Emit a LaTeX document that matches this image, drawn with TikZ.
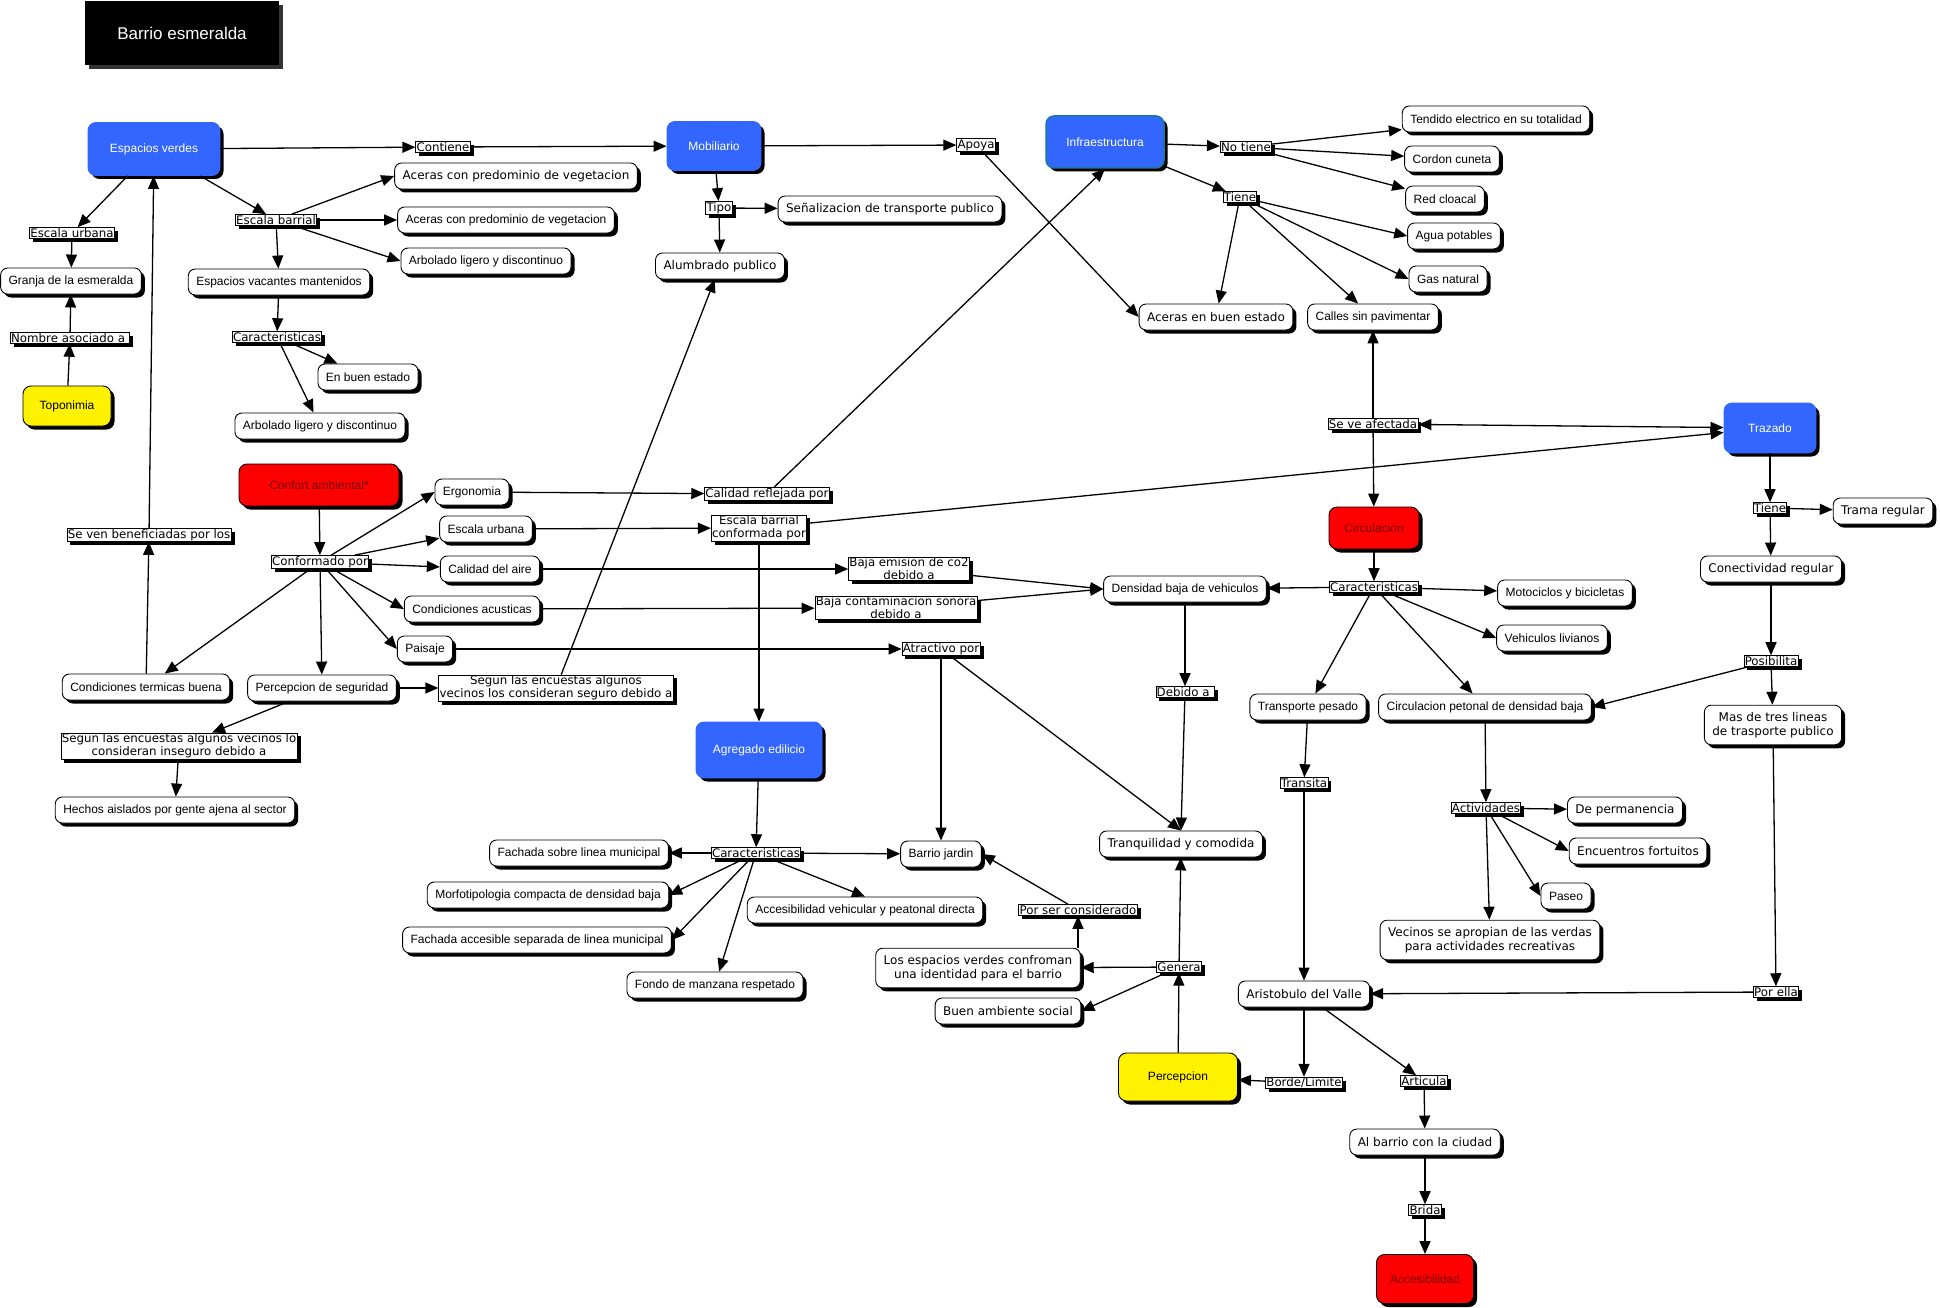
\documentclass[tikz,border=0pt]{standalone}
\usepackage{fontspec}
\setmainfont{Liberation Sans}
\newfontfamily\verd{DejaVu Sans}
\usetikzlibrary{arrows.meta,shadows}
\definecolor{azul}{HTML}{3366FF}
\definecolor{verdeazul}{HTML}{1A7A99}

\begin{document}
\begin{tikzpicture}[x=1pt,y=-1pt]
        \tikzstyle{concept}=[draw,fill=white,rounded corners=7pt,line width=0.9pt,inner xsep=8pt,inner ysep=7pt,minimum height=26pt,align=center,font=\fontsize{12}{14}\selectfont,drop shadow={shadow xshift=3.5pt,shadow yshift=-3.5pt,opacity=1,fill=black}]
        \tikzstyle{vconcept}=[concept,font=\verd\fontsize{12}{14}\selectfont]
        \tikzstyle{link}=[draw,fill=white,line width=0.8pt,inner sep=0.8pt,align=center,font=\verd\fontsize{11.8}{13}\selectfont,drop shadow={shadow xshift=3.5pt,shadow yshift=-3.5pt,opacity=1,fill=black}]
        \tikzstyle{hub}=[concept,draw=azul,fill=azul,text=white,rounded corners=8pt]
        \tikzstyle{rojo}=[concept,fill=red,text=red!45!black,rounded corners=8pt]
        \tikzstyle{amarillo}=[concept,fill=yellow,rounded corners=8pt]
        \tikzstyle{arr}=[-{Triangle[length=13pt,width=11pt]},line width=1.3pt]
        \tikzstyle{darr}=[{Triangle[length=13pt,width=11pt]}-{Triangle[length=13pt,width=11pt]},line width=1.3pt]
        \useasboundingbox (0,0) rectangle (1940,1308);

        \node[fill=black,text=white,minimum width=194pt,minimum height=64pt,font=\fontsize{17}{20}\selectfont,drop shadow={shadow xshift=4pt,shadow yshift=-4pt,opacity=1,fill=black!80}] (titulo) at (182,33) {Barrio esmeralda};

        \node[hub,minimum width=132pt,minimum height=53pt] (ev) at (154,149) {Espacios verdes};
        \node[link] (escu1) at (72,233) {Escala urbana};
        \node[concept] (granja) at (71,281) {Granja de la esmeralda};
        \node[link] (nombre) at (70,338) {Nombre asociado a\ };
        \node[amarillo,minimum width=88pt,minimum height=40pt] (topo) at (67,406) {Toponimia};
        \node[link] (escb) at (276,220) {Escala barrial};
        \node[vconcept] (acer1) at (516,176) {Aceras con predominio de vegetacion};
        \node[concept] (acer2) at (506,220) {Aceras con predominio de vegetacion};
        \node[concept] (arb1) at (486,261) {Arbolado ligero y discontinuo};
        \node[concept] (vac) at (279,282) {Espacios vacantes mantenidos};
        \node[link] (car1) at (277,337) {Caracteristicas};
        \node[concept] (buen) at (368,377) {En buen estado};
        \node[concept] (arb2) at (320,426) {Arbolado ligero y discontinuo};
        \node[link] (cont) at (443,147) {Contiene};

        \node[hub,minimum width=94pt,minimum height=49pt] (mob) at (714,146) {Mobiliario};
        \node[link] (tipo) at (719,208) {Tipo};
        \node[vconcept] (senal) at (890,209) {Señalizacion de transporte publico};
        \node[vconcept] (alum) at (720,266) {Alumbrado publico};
        \node[link] (apoya) at (976,145) {Apoya};

        \node[hub,draw=verdeazul,line width=1.5pt,minimum width=118pt,minimum height=52pt] (infra) at (1105,142) {Infraestructura};
        \node[link] (notiene) at (1246,147) {No tiene};
        \node[link] (tiene) at (1240,197) {Tiene};
        \node[concept] (tend) at (1496,119) {Tendido electrico en su totalidad};
        \node[concept] (cordon) at (1452,159) {Cordon cuneta};
        \node[concept] (cloaca) at (1445,199) {Red cloacal};
        \node[concept] (agua) at (1454,236) {Agua potables};
        \node[concept] (gas) at (1448,279) {Gas natural};
        \node[vconcept] (aceb) at (1216,317) {Aceras en buen estado};
        \node[concept] (calles) at (1373,317) {Calles sin pavimentar};
        \node[link] (seve) at (1373,424) {Se ve afectada};
        \node[hub,minimum width=92pt,minimum height=50pt] (traz) at (1770,428) {Trazado};

        \node[rojo,minimum width=160pt,minimum height=42pt] (confort) at (319,485) {Confort ambiental*};
        \node[link] (seven) at (149,535) {Se ven beneficiadas por los};
        \node[link] (conf) at (320,562) {Conformado por};
        \node[concept] (ergo) at (472,492) {Ergonomia};
        \node[concept] (escu2) at (486,529) {Escala urbana};
        \node[concept] (aire) at (490,569) {Calidad del aire};
        \node[concept] (acus) at (472,609) {Condiciones acusticas};
        \node[concept] (pais) at (425,649) {Paisaje};
        \node[concept] (term) at (146,687) {Condiciones termicas buena};
        \node[concept] (perseg) at (322,688) {Percepcion de seguridad};
        \node[link] (segun1) at (556,688) {Segun las encuestas algunos\\vecinos los consideran seguro debido a};
        \node[link] (segun2) at (179,746) {Segun las encuestas algunos vecinos lo\\consideran inseguro debido a};
        \node[concept] (hechos) at (175,810) {Hechos aislados por gente ajena al sector};

        \node[link] (calref) at (767,494) {Calidad reflejada por};
        \node[link] (escbc) at (759,528) {Escala barrial\\conformada por};
        \node[link] (bajaco) at (909,569) {Baja emision de co2\\debido a};
        \node[link] (bajason) at (896,608) {Baja contaminacion sonora\\debido a};
        \node[link] (atrac) at (941,649) {Atractivo por};
        \node[hub,minimum width=126pt,minimum height=56pt] (agreg) at (759,750) {Agregado edilicio};
        \node[link] (car2) at (756,853) {Caracteristicas};
        \node[concept] (fach1) at (579,853) {Fachada sobre linea municipal};
        \node[concept] (morfo) at (548,895) {Morfotipologia compacta de densidad baja};
        \node[concept] (fach2) at (537,940) {Fachada accesible separada de linea municipal};
        \node[concept] (fondo) at (715,985) {Fondo de manzana respetado};
        \node[concept] (accv) at (865,910) {Accesibilidad vehicular y peatonal directa};
        \node[concept] (bj) at (941,854) {Barrio jardin};

        \node[vconcept] (tranq) at (1181,844) {Tranquilidad y comodida};
        \node[link] (porser) at (1078,910) {Por ser considerado};
        \node[vconcept] (losev) at (978,968) {Los espacios verdes confroman\\una identidad para el barrio};
        \node[link] (genera) at (1179,967) {Genera};
        \node[vconcept] (buena) at (1008,1011) {Buen ambiente social};
        \node[amarillo,minimum width=119pt,minimum height=48pt] (perc) at (1178,1077) {Percepcion};
        \node[link] (borde) at (1304,1083) {Borde/Limite};
        \node[vconcept] (arist) at (1304,994) {Aristobulo del Valle};

        \node[rojo,minimum width=90pt,minimum height=42pt] (circ) at (1374,528) {Circulacion};
        \node[link] (car3) at (1374,587) {Caracteristicas};
        \node[concept] (dens) at (1185,589) {Densidad baja de vehiculos};
        \node[link] (debido) at (1185,692) {Debido a\ };
        \node[concept] (trans) at (1308,707) {Transporte pesado};
        \node[concept] (circp) at (1485,707) {Circulacion petonal de densidad baja};
        \node[link] (transita) at (1304,783) {Transita};
        \node[concept] (moto) at (1565,593) {Motociclos y bicicletas};
        \node[concept] (vliv) at (1552,638) {Vehiculos livianos};

        \node[link] (tiene2) at (1770,508) {Tiene};
        \node[vconcept] (trama) at (1883,511) {Trama regular};
        \node[vconcept] (conec) at (1771,569) {Conectividad regular};
        \node[link] (posib) at (1771,661) {Posibilita};
        \node[vconcept] (mas) at (1773,725) {Mas de tres lineas\\de trasporte publico};
        \node[link] (activ) at (1486,808) {Actividades};
        \node[vconcept] (perm) at (1625,810) {De permanencia};
        \node[vconcept] (encu) at (1638,851) {Encuentros fortuitos};
        \node[concept] (paseo) at (1566,896) {Paseo};
        \node[vconcept] (vecin) at (1490,940) {Vecinos se apropian de las verdas\\para actividades recreativas};
        \node[link] (porella) at (1776,992) {Por ella};
        \node[link] (artic) at (1424,1081) {Articula};
        \node[vconcept] (albarrio) at (1425,1142) {Al barrio con la ciudad};
        \node[link] (brida) at (1425,1210) {Brida};
        \node[rojo,minimum width=97pt,minimum height=49pt] (acces) at (1425,1279) {Accesibilidad};

        \draw[arr] (ev) -- (cont);
        \draw[arr] (cont) -- (mob);
        \draw[arr] (ev) -- (escu1);
        \draw[arr] (escu1) -- (granja);
        \draw[arr] (topo) -- (nombre);
        \draw[arr] (nombre) -- (granja);
        \draw[arr] (ev) -- (escb);
        \draw[arr] (escb) -- (acer1.west);
        \draw[arr] (escb) -- (acer2);
        \draw[arr] (escb) -- (arb1.west);
        \draw[arr] (escb) -- (vac);
        \draw[arr] (vac) -- (car1);
        \draw[arr] (car1) -- (buen);
        \draw[arr] (car1) -- (arb2);

        \draw[arr] (mob) -- (tipo);
        \draw[arr] (tipo) -- (senal);
        \draw[arr] (tipo) -- (alum);
        \draw[arr] (mob) -- (apoya);
        \draw[arr] (apoya) -- (aceb.west);

        \draw[arr] (infra) -- (notiene);
        \draw[arr] (infra) -- (tiene);
        \draw[arr] (notiene) -- (tend);
        \draw[arr] (notiene) -- (cordon);
        \draw[arr] (notiene) -- (cloaca);
        \draw[arr] (tiene) -- (agua.west);
        \draw[arr] (tiene) -- (gas.west);
        \draw[arr] (tiene) -- (aceb);
        \draw[arr] (tiene) -- (calles);
        \draw[arr] (seve) -- (calles);
        \draw[arr] (seve) -- (circ);
        \draw[darr] (seve) -- (traz);

        \draw[arr] (confort) -- (conf);
        \draw[arr] (conf) -- (ergo.west);
        \draw[arr] (conf) -- (escu2);
        \draw[arr] (conf) -- (aire);
        \draw[arr] (conf) -- (acus.west);
        \draw[arr] (conf) -- (pais.west);
        \draw[arr] (conf) -- (term);
        \draw[arr] (conf) -- (perseg);
        \draw[arr] (term) -- (seven);
        \draw[arr] (seven) -- (ev);
        \draw[arr] (perseg) -- (segun1);
        \draw[arr] (perseg) -- (segun2);
        \draw[arr] (segun2) -- (hechos);
        \draw[arr] (segun1) -- (alum);

        \draw[arr] (ergo) -- (calref);
        \draw[arr] (calref) -- (infra.south);
        \draw[arr] (escu2) -- (escbc);
        \draw[arr] (escbc) -- (traz);
        \draw[arr] (escbc) -- (agreg);
        \draw[arr] (aire) -- (bajaco);
        \draw[arr] (acus) -- (bajason);
        \draw[arr] (pais) -- (atrac);
        \draw[arr] (bajaco) -- (dens.west);
        \draw[arr] (bajason) -- (dens.west);
        \draw[arr] (atrac) -- (bj);
        \draw[arr] (atrac) -- (tranq.north);

        \draw[arr] (agreg) -- (car2);
        \draw[arr] (car2) -- (fach1);
        \draw[arr] (car2) -- (morfo.east);
        \draw[arr] (car2) -- (fach2.east);
        \draw[arr] (car2) -- (fondo);
        \draw[arr] (car2) -- (accv.north);
        \draw[arr] (car2) -- (bj);

        \draw[arr] (circ) -- (car3);
        \draw[arr] (car3) -- (dens);
        \draw[arr] (car3) -- (moto);
        \draw[arr] (car3) -- (vliv.west);
        \draw[arr] (car3) -- (trans);
        \draw[arr] (car3) -- (circp);
        \draw[arr] (dens) -- (debido);
        \draw[arr] (debido) -- (tranq.north);
        \draw[arr] (trans) -- (transita);
        \draw[arr] (transita) -- (arist);
        \draw[arr] (circp) -- (activ);
        \draw[arr] (activ) -- (perm);
        \draw[arr] (activ) -- (encu.west);
        \draw[arr] (activ) -- (paseo.west);
        \draw[arr] (activ) -- (vecin);

        \draw[arr] (traz) -- (tiene2);
        \draw[arr] (tiene2) -- (trama);
        \draw[arr] (tiene2) -- (conec);
        \draw[arr] (conec) -- (posib);
        \draw[arr] (posib) -- (circp.east);
        \draw[arr] (posib) -- (mas);
        \draw[arr] (mas) -- (porella);
        \draw[arr] (porella) -- (arist);

        \draw[arr] (arist) -- (borde);
        \draw[arr] (borde) -- (perc);
        \draw[arr] (arist) -- (artic);
        \draw[arr] (artic) -- (albarrio);
        \draw[arr] (albarrio) -- (brida);
        \draw[arr] (brida) -- (acces);
        \draw[arr] (perc) -- (genera);
        \draw[arr] (genera) -- (tranq);
        \draw[arr] (genera) -- (losev);
        \draw[arr] (genera) -- (buena.east);
        \draw[arr] (losev.north -| porser) -- (porser);
        \draw[arr] (porser) -- (bj.east);
\end{tikzpicture}
\end{document}
